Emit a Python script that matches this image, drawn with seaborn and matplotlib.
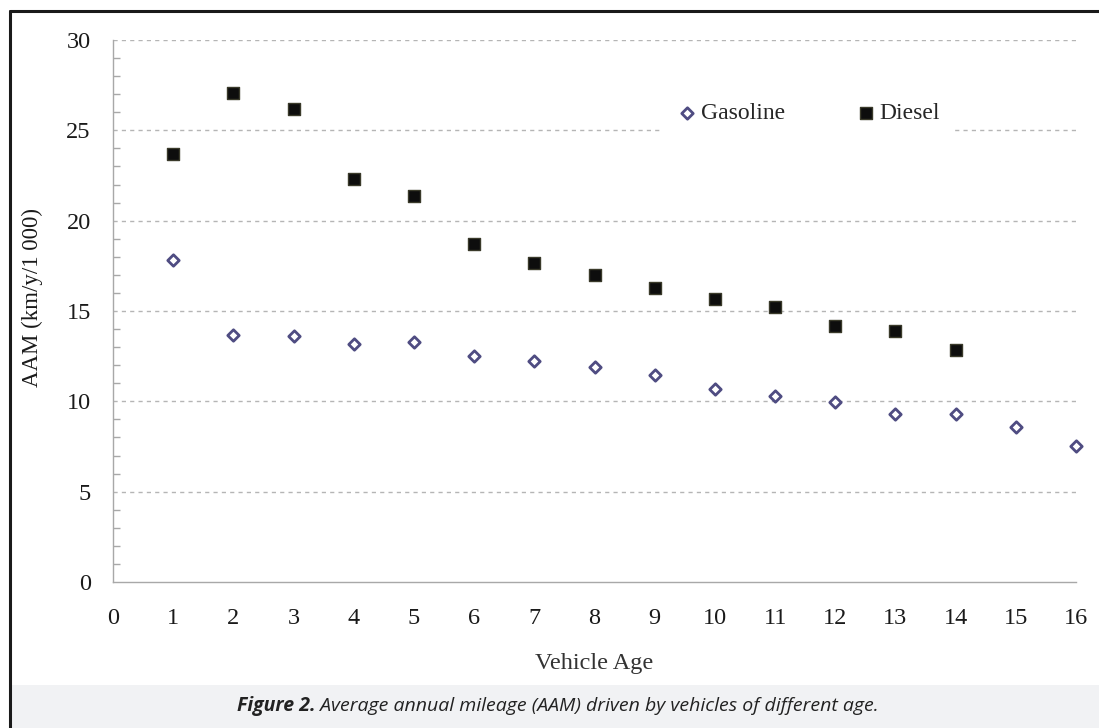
import numpy as np
import pandas as pd
import matplotlib
matplotlib.use("Agg")
import matplotlib.pyplot as plt
import seaborn as sns
from matplotlib.patches import Rectangle
from matplotlib.ticker import MultipleLocator

# ---- data ----
gas_age = [1, 2, 3, 4, 5, 6, 7, 8, 9, 10, 11, 12, 13, 14, 15, 16]
gas_aam = [17.8, 13.67, 13.6, 13.17, 13.28, 12.5, 12.23, 11.9, 11.46, 10.7, 10.27, 9.96, 9.3, 9.3, 8.56, 7.54]
die_age = [1, 2, 3, 4, 5, 6, 7, 8, 9, 10, 11, 12, 13, 14]
die_aam = [23.7, 27.05, 26.18, 22.3, 21.38, 18.7, 17.65, 16.99, 16.3, 15.66, 15.22, 14.17, 13.89, 12.85]
series_names = ["Gasoline", "Diesel"]
x_ticks = list(range(0, 17))
y_ticks = [0, 5, 10, 15, 20, 25, 30]
x_label = "Vehicle Age"
y_label = "AAM (km/y/1 000)"
caption_bold = "Figure 2."
caption_rest = " Average annual mileage (AAM) driven by vehicles of different age."

df_gas = pd.DataFrame({"age": gas_age, "aam": gas_aam})
df_die = pd.DataFrame({"age": die_age, "aam": die_aam})

sns.set_style("white")
plt.rcParams["font.family"] = ["Liberation Serif", "DejaVu Serif"]

fig = plt.figure(figsize=(10.99, 7.28), dpi=100)
ax = fig.add_axes([113 / 1099, 1 - 582 / 728, (1076 - 113) / 1099, (582 - 40) / 728])

grid_c = "#b5b5b5"
axis_c = "#a8a8a8"

for yv in y_ticks[1:]:
    ax.axhline(yv, color=grid_c, lw=1.0, ls=(0, (3, 3)), zorder=0)

sns.scatterplot(data=df_gas, x="age", y="aam", ax=ax, marker="D", s=34,
                facecolor="white", edgecolor="#4f4c82", linewidth=2.0,
                label=series_names[0], zorder=3, clip_on=False)
sns.scatterplot(data=df_die, x="age", y="aam", ax=ax, marker="s", s=80,
                color="#0d0d0d", edgecolor="#3a3a2a", linewidth=1.0,
                label=series_names[1], zorder=3, clip_on=False)

ax.set_xlim(0, 16)
ax.set_ylim(0, 30)
ax.set_xticks(x_ticks)
ax.set_yticks(y_ticks)
ax.yaxis.set_minor_locator(MultipleLocator(1))
ax.tick_params(axis="both", which="major", labelsize=17.5, colors=axis_c,
               labelcolor="#1a1a1a", direction="out", length=7, width=1)
ax.tick_params(axis="y", which="minor", direction="in", length=5, width=1,
               colors=axis_c, left=True)
ax.tick_params(axis="x", pad=12)
ax.tick_params(axis="y", pad=9)

for s in ["top", "right"]:
    ax.spines[s].set_visible(False)
for s in ["left", "bottom"]:
    ax.spines[s].set_color(axis_c)
    ax.spines[s].set_linewidth(1.0)

ax.set_xlabel(x_label, fontsize=17.5, color="#333333", labelpad=17)
ax.set_ylabel(y_label, fontsize=16.5, color="#1a1a1a")
ax.yaxis.set_label_coords(-0.0727, 0.525)

leg = ax.legend(loc="upper left", bbox_to_anchor=(0.558, 0.932), ncol=2,
                frameon=True, fontsize=17, handletextpad=0.15, handlelength=0.9,
                columnspacing=2.95, borderpad=0.6, markerscale=1.0)
leg.get_frame().set_facecolor("white")
leg.get_frame().set_edgecolor("none")
leg.get_frame().set_alpha(1.0)

# caption band and outer frame
fig.patches.append(Rectangle((10 / 1099, 0), 1 - 10 / 1099, 43 / 728,
                             transform=fig.transFigure, facecolor="#f1f2f4",
                             edgecolor="none", zorder=0))
fig.lines.append(plt.Line2D([10 / 1099, 10 / 1099], [0, 1 - 11 / 728],
                            transform=fig.transFigure, color="#1a1a1a", lw=2.2))
fig.lines.append(plt.Line2D([10 / 1099, 1], [1 - 11 / 728, 1 - 11 / 728],
                            transform=fig.transFigure, color="#1a1a1a", lw=2.2))

cap_y = 1 - 706 / 728
t1 = fig.text(0.5, cap_y, caption_bold, fontsize=14, fontstyle="italic",
              fontweight="bold", family=["Open Sans", "DejaVu Sans"],
              color="#222222", ha="left", va="center")
t2 = fig.text(0.5, cap_y, caption_rest, fontsize=14, fontstyle="italic",
              family=["Open Sans", "DejaVu Sans"], color="#222222",
              ha="left", va="center")
fig.canvas.draw()
r = fig.canvas.get_renderer()
w1 = t1.get_window_extent(r).width
w2 = t2.get_window_extent(r).width
total = w1 + w2
start = 558 - total / 2
t1.set_x(start / 1099)
t2.set_x((start + w1) / 1099)

fig.savefig("out.png", dpi=100)
